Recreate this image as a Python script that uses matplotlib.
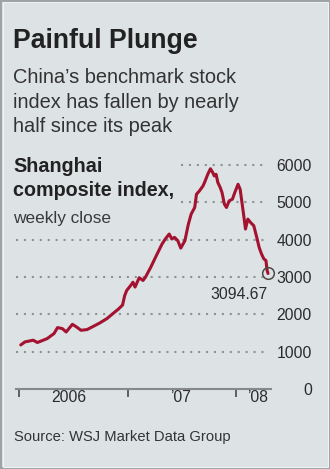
import pandas as pd
import matplotlib
matplotlib.use('Agg')
import matplotlib.pyplot as plt
from matplotlib.patches import Rectangle

# Shanghai composite, weekly close
dates = ['2006-01-06', '2006-01-20', '2006-02-17', '2006-03-03', '2006-04-05',
         '2006-04-28', '2006-05-10', '2006-05-26', '2006-06-08', '2006-06-29',
         '2006-07-13', '2006-07-28', '2006-08-17', '2006-09-08', '2006-09-29',
         '2006-10-23', '2006-11-17', '2006-12-01', '2006-12-15', '2006-12-22',
         '2006-12-29', '2007-01-12', '2007-01-19', '2007-01-26', '2007-02-09',
         '2007-02-22', '2007-03-02', '2007-03-20', '2007-04-05', '2007-04-27',
         '2007-05-08', '2007-05-21', '2007-05-30', '2007-06-08', '2007-06-19',
         '2007-06-29', '2007-07-13', '2007-07-24', '2007-08-03', '2007-08-15',
         '2007-08-21', '2007-08-31', '2007-09-12', '2007-09-17', '2007-09-28',
         '2007-10-07', '2007-10-15', '2007-10-20', '2007-10-26', '2007-11-01',
         '2007-11-09', '2007-11-15', '2007-11-23', '2007-11-30', '2007-12-09',
         '2007-12-20', '2007-12-28', '2008-01-08', '2008-01-15', '2008-01-22',
         '2008-01-28', '2008-02-02', '2008-02-10', '2008-02-19', '2008-03-01',
         '2008-03-11', '2008-03-19', '2008-03-27', '2008-04-04', '2008-04-11',
         '2008-04-15', '2008-04-18']
values = [1180, 1261, 1307, 1245, 1350,
          1485, 1645, 1618, 1528, 1733,
          1661, 1573, 1591, 1680, 1768,
          1884, 2050, 2140, 2250, 2500,
          2640, 2780, 2860, 2730, 2980,
          2907, 2995, 3262, 3529, 3884,
          4018, 4151, 4018, 4062, 3973,
          3773, 3973, 4395, 4684, 4862,
          5218, 5307, 5440, 5529, 5751,
          5900, 5795, 5707, 5751, 5529,
          5396, 5262, 4951, 4862, 5040,
          5084, 5262, 5484, 5351, 4951,
          4595, 4284, 4551, 4462, 4373,
          4062, 3795, 3617, 3484, 3440,
          3173, 3094.67]

yticks = [0, 1000, 2000, 3000, 4000, 5000, 6000]
year_ticks = ['2006-01-01', '2007-01-01', '2008-01-01']
xlabel_pos = ['2006-06-16', '2007-06-27', '2008-03-13']
xlabels = ['2006', '\u201907', '\u201908']

BG = '#dde2e5'
RED = '#a3122f'
TXT = '#2b2b2b'
GRID = '#8d9295'

plt.rcParams['font.family'] = ['Liberation Sans', 'DejaVu Sans']

W, H = 330, 469
fig = plt.figure(figsize=(W / 100, H / 100), dpi=100)
fig.patch.set_facecolor(BG)


def fx(px):
    return px / W


def fy(py):
    return 1 - py / H


# frame
fig.add_artist(Rectangle((0, 0), 1, 1, transform=fig.transFigure, fill=False,
                         edgecolor='#9ea3a6', linewidth=2.9))
fig.add_artist(Rectangle((2.5 / W, 2.5 / H), 1 - 5 / W, 1 - 5 / H,
                         transform=fig.transFigure, fill=False,
                         edgecolor='#f0f2f3', linewidth=0.72))

ax_l, ax_r = 16, 271
ax = fig.add_axes([fx(ax_l), fy(389), (ax_r - ax_l) / W, (389 - 153.8) / H])
ax.set_facecolor('none')

# dotted gridlines; the top two stop short of the chart label
for v in yticks[1:]:
    start = 181 if v >= 5000 else ax_l
    ax.axhline(v, xmin=(start - ax_l) / (ax_r - ax_l),
               xmax=(268 - ax_l) / (ax_r - ax_l), color=GRID,
               linestyle=(0, (1, 2.8)), linewidth=1.5, zorder=1)

d = pd.to_datetime(dates)
ax.plot(d, values, color=RED, lw=2.2, solid_joinstyle='round',
        solid_capstyle='round', zorder=3)
ax.plot(d[-1], values[-1], 'o', ms=8.4, mfc='none', mec='#4d4943', mew=1.1,
        zorder=4, clip_on=False)
ax.annotate(f'{values[-1]:.2f}', xy=(d[-1], values[-1]), xytext=(-21, -18.4),
            textcoords='offset points', ha='center', va='baseline',
            fontsize=11.3, color=TXT)

for s in ['top', 'left', 'right']:
    ax.spines[s].set_visible(False)
ax.spines['bottom'].set_color('#85898c')
ax.spines['bottom'].set_linewidth(1.5)

ax.set_ylim(0, 6300)
ax.set_yticks(yticks)
ax.yaxis.tick_right()
ax.tick_params(axis='y', length=0, pad=29.5, labelsize=11.3, labelcolor=TXT)
for lab in ax.get_yticklabels():
    lab.set_ha('right')

ax.set_xlim(pd.Timestamp('2005-12-21'), pd.Timestamp('2008-04-28'))
ax.set_xticks(pd.to_datetime(year_ticks), labels=['', '', ''])
ax.set_xticks(pd.to_datetime(xlabel_pos), labels=xlabels, minor=True)
ax.tick_params(axis='x', which='major', length=5.8, width=1.1,
               color='#3c3c3c', direction='out')
ax.tick_params(axis='x', which='minor', length=0, pad=1, labelsize=11.3,
               labelcolor=TXT)

# texts
fig.text(fx(13), fy(48), 'Painful Plunge', fontsize=19.2, fontweight='bold',
         color='#222222', va='baseline')
sub = ['China\u2019s benchmark stock', 'index has fallen by nearly',
       'half since its peak']
for i, line in enumerate(sub):
    fig.text(fx(13), fy(83 + 24.5 * i), line, fontsize=14.4, color='#333333',
             va='baseline')
fig.text(fx(13), fy(171.7), 'Shanghai', fontsize=14.2, fontweight='bold',
         color='#222222', va='baseline')
fig.text(fx(13), fy(196.5), 'composite index,', fontsize=14.2,
         fontweight='bold', color='#222222', va='baseline')
fig.text(fx(13), fy(222.5), 'weekly close', fontsize=12.4, color='#3a3a3a',
         va='baseline')
fig.text(fx(14), fy(441), 'Source: WSJ Market Data Group', fontsize=10.6,
         color='#333333', va='baseline')

fig.savefig('out.png', dpi=100, facecolor=fig.get_facecolor())
